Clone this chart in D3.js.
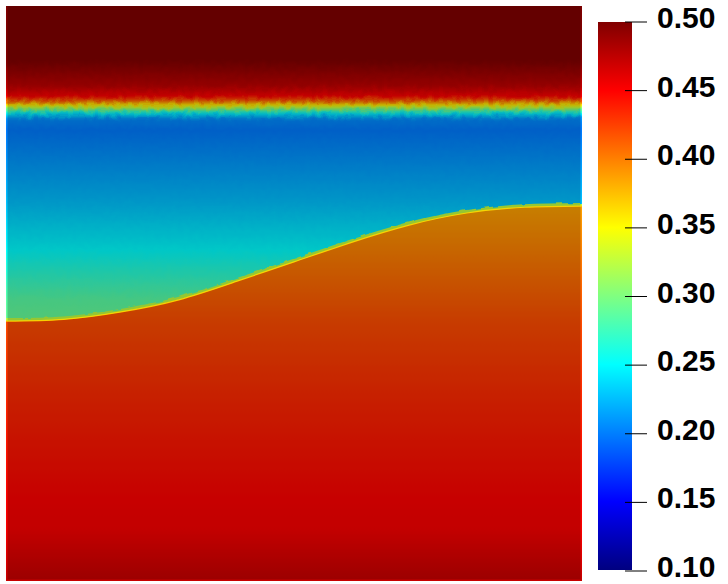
<!DOCTYPE html>
<html>
<head>
<meta charset="utf-8">
<script src="https://cdn.jsdelivr.net/npm/d3@7"></script>
<style>
  html, body { margin: 0; background: #fff; }
  svg { display: block; }
  .tick text { font-family: "Liberation Sans", sans-serif; font-weight: bold; font-size: 30px; fill: #000; }
</style>
</head>
<body>
<div id="chart"></div>
<script>
// colour bar
var colorValues = [0.10, 0.15, 0.25, 0.30, 0.35, 0.40, 0.45, 0.50];
var colorStops = ["#000080", "#0000ff", "#00ffff", "#80ff80", "#ffff00", "#ff8000", "#ff0000", "#800000"];
var tickValues = [0.10, 0.15, 0.20, 0.25, 0.30, 0.35, 0.40, 0.45, 0.50];

// upper fluid: height in the box (0 bottom, 1 top) and the value there
var upperHeights = [1.0, 0.906, 0.861, 0.843, 0.835, 0.828, 0.821, 0.814, 0.803, 0.784, 0.663, 0.576, 0.489, 0.40];
var upperValues = [0.50, 0.50, 0.475, 0.45, 0.41, 0.36, 0.31, 0.25, 0.205, 0.198, 0.225, 0.25, 0.285, 0.30];

// lower fluid
var lowerHeights = [0.66, 0.45, 0.31, 0.14, 0.09, 0.0];
var lowerValues = [0.385, 0.42, 0.435, 0.45, 0.452, 0.472];

// interface between the two
var interfaceX = [0.0, 0.1, 0.2, 0.3, 0.4, 0.5, 0.6, 0.7, 0.8, 0.9, 1.0];
var interfaceH = [0.452, 0.455, 0.468, 0.489, 0.521, 0.555, 0.589, 0.619, 0.64, 0.65, 0.652];

var svgWidth = 728, svgHeight = 584;
var plot = { left: 6, right: 582, top: 6, bottom: 581 };
var bar = { left: 598, right: 632, top: 22, bottom: 570 };

var svg = d3.select("#chart").append("svg")
  .attr("width", svgWidth)
  .attr("height", svgHeight);
var defs = svg.append("defs");

var xScale = d3.scaleLinear().domain([0, 1]).range([plot.left, plot.right]);
var yScale = d3.scaleLinear().domain([0, 1]).range([plot.bottom, plot.top]);
var colorScale = d3.scaleLinear().domain(colorValues).range(colorStops).interpolate(d3.interpolateRgb);

var upperScale = d3.scaleLinear().domain(upperHeights).range(upperValues);
var lowerScale = d3.scaleLinear().domain(lowerHeights).range(lowerValues);

// vertical gradient in pixel space, from a height->colour function
function addGradient(id, colorAt) {
  var grad = defs.append("linearGradient")
    .attr("id", id)
    .attr("gradientUnits", "userSpaceOnUse")
    .attr("x1", 0).attr("x2", 0)
    .attr("y1", yScale(1)).attr("y2", yScale(0));
  d3.range(0, 1.0001, 0.004).forEach(function(t) {
    grad.append("stop")
      .attr("offset", t)
      .attr("stop-color", colorAt(1 - t));
  });
}
addGradient("upperGrad", h => colorScale(upperScale(h)));
addGradient("lowerGrad", h => colorScale(lowerScale(Math.min(h, 0.66))));

// rough mesh look on the sharp fronts
function addRough(id, freq, amount) {
  var rough = defs.append("filter")
    .attr("id", id)
    .attr("filterUnits", "userSpaceOnUse")
    .attr("x", 0).attr("y", 0).attr("width", svgWidth).attr("height", svgHeight)
    .attr("color-interpolation-filters", "sRGB");
  rough.append("feTurbulence")
    .attr("type", "fractalNoise")
    .attr("baseFrequency", freq)
    .attr("numOctaves", 1)
    .attr("seed", 4)
    .attr("result", "noise");
  rough.append("feDisplacementMap")
    .attr("in", "SourceGraphic")
    .attr("in2", "noise")
    .attr("scale", amount)
    .attr("xChannelSelector", "R")
    .attr("yChannelSelector", "G");
}
addRough("roughBand", 0.18, 6);
addRough("roughFringe", 0.12, 4);

defs.append("clipPath").attr("id", "plotClip").append("rect")
  .attr("x", plot.left).attr("y", plot.top)
  .attr("width", plot.right - plot.left)
  .attr("height", plot.bottom - plot.top);

var clipped = svg.append("g").attr("clip-path", "url(#plotClip)");

clipped.append("rect")
  .attr("x", 0).attr("y", 0)
  .attr("width", svgWidth).attr("height", svgHeight)
  .attr("fill", "url(#upperGrad)")
  .attr("filter", "url(#roughBand)");

var pts = interfaceX.map((x, i) => [x, interfaceH[i]]);
var lineGen = d3.line()
  .x(d => xScale(d[0]))
  .y(d => yScale(d[1]))
  .curve(d3.curveNatural);
var lowerArea = d3.area()
  .x(d => xScale(d[0]))
  .y0(svgHeight + 10)
  .y1(d => yScale(d[1]))
  .curve(d3.curveNatural);

// front: rough green fringe above the lower fluid
clipped.append("path").attr("d", lineGen(pts))
  .attr("fill", "none").attr("stroke", colorScale(0.325)).attr("stroke-width", 6)
  .attr("filter", "url(#roughFringe)");
clipped.append("path").attr("d", lowerArea(pts))
  .attr("fill", "url(#lowerGrad)");

// lighting darkens the inside, the box edge stays bright
clipped.append("rect")
  .attr("x", plot.left + 1.5).attr("y", plot.top)
  .attr("width", plot.right - plot.left - 3)
  .attr("height", plot.bottom - plot.top - 1.5)
  .attr("fill", "#000").attr("opacity", 0.22);

// thin bright core of the front sits on top of the shading
clipped.append("path").attr("d", lineGen(pts))
  .attr("fill", "none").attr("stroke", colorScale(0.365)).attr("stroke-width", 1.2)
  .attr("stroke-opacity", 0.9);

// colour bar
var barGrad = defs.append("linearGradient")
  .attr("id", "barGrad")
  .attr("x1", 0).attr("x2", 0).attr("y1", 1).attr("y2", 0);
colorValues.forEach(function(v, i) {
  barGrad.append("stop")
    .attr("offset", (v - 0.1) / 0.4)
    .attr("stop-color", colorStops[i]);
});
svg.append("rect")
  .attr("x", bar.left).attr("y", bar.top)
  .attr("width", bar.right - bar.left)
  .attr("height", bar.bottom - bar.top)
  .attr("fill", "url(#barGrad)");

var barScale = d3.scaleLinear().domain([0.1, 0.5]).range([570.5, 21.5]);
var barAxis = d3.axisRight(barScale)
  .tickValues(tickValues)
  .tickFormat(d3.format(".2f"))
  .tickSize(22)
  .tickPadding(10);
var axisGroup = svg.append("g")
  .attr("transform", "translate(625,0)")
  .call(barAxis);
axisGroup.select(".domain").remove();
axisGroup.selectAll(".tick line").attr("stroke", "#000").attr("stroke-width", 1);
axisGroup.selectAll(".tick text").attr("dy", "0.2em");
</script>
</body>
</html>
